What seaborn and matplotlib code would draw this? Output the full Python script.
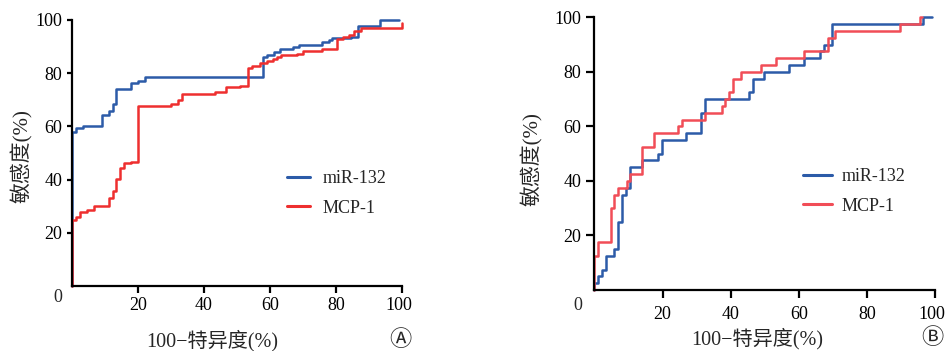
import matplotlib
matplotlib.use("Agg")
import matplotlib.pyplot as plt
import matplotlib.transforms as mtransforms
import seaborn as sns

# ---- data ----
a_mir_x = [0, 0, 1.2, 3.2, 9.0, 11.2, 12.3, 13.3, 17.9, 19.9, 22.2, 57.8, 59.0, 61.1, 63.1,
           66.9, 68.9, 75.7, 77.8, 78.9, 84.4, 86.6, 93.2, 99.1]
a_mir_y = [0, 58, 59.5, 60.3, 64.3, 65.9, 68.3, 73.9, 76.2, 77.2, 78.6, 86.0, 87.0, 87.8, 89.0,
           89.7, 90.7, 91.6, 92.5, 93.2, 93.5, 97.9, 100, 100]
a_mcp_x = [0, 0, 1.2, 2.4, 4.4, 6.8, 11.2, 12.3, 13.3, 14.5, 15.7, 17.9, 19.9, 29.9, 32.1,
           33.3, 43.4, 46.6, 50.9, 53.2, 54.4, 57.0, 59.0, 61.0, 62.0, 63.2, 68.1, 70.1,
           75.7, 80.2, 82.0, 83.8, 85.5, 87.7, 100]
a_mcp_y = [0, 24.8, 26, 27.8, 28.6, 30.2, 33.2, 35.8, 40.2, 44.5, 46.1, 46.8, 67.7, 68.3, 69.9,
           72.2, 73.1, 74.7, 75.3, 81.8, 82.8, 83.7, 84.4, 85.3, 86, 87, 87.4, 88.4,
           89.1, 92.7, 93.7, 94.5, 96, 97.1, 99]

b_mir_x = [0, 0, 1.2, 2.3, 3.4, 5.8, 7.0, 8.1, 9.2, 10.4, 13.9, 18.6, 19.8, 26.8, 31.4, 32.5,
           45.5, 46.5, 49.9, 57.2, 61.6, 66.2, 67.5, 69.6, 96.4, 98.9]
b_mir_y = [0, 2.5, 5, 7.5, 12.5, 15, 25, 35, 37.5, 45, 47.5, 50, 55, 57.5, 65, 70,
           72.5, 77.5, 80, 82.5, 85, 87.5, 90, 97.5, 100, 100]
b_mcp_x = [0, 0, 1.2, 4.8, 5.8, 7.0, 9.5, 10.4, 14.0, 17.5, 24.6, 25.6, 32.4, 37.4, 38.4,
           39.5, 40.6, 43.0, 48.9, 53.3, 61.6, 68.4, 70.7, 89.6, 95.4, 96.2]
b_mcp_y = [0, 12.5, 17.5, 30, 35, 37.5, 40, 42.5, 52.5, 57.5, 60, 62.5, 65, 67.5, 70,
           72.5, 77.5, 80, 82.5, 85, 87.5, 92.5, 95, 97.5, 100, 100]

series_names = ["miR-132", "MCP-1"]
tick_values = [20, 40, 60, 80, 100]
ylabel_text = "敏感度(%)"
xlabel_text = "100−特异度(%)"
panel_tags = ["Ⓐ", "Ⓑ"]

# ---- style ----
sns.set_style("ticks")
plt.rcParams["font.family"] = ["Liberation Serif", "Noto Sans CJK SC", "DejaVu Sans"]

W, H = 946, 351
fig = plt.figure(figsize=(W / 100, H / 100), dpi=100)

BLUE = "#2c5ba8"
RED_A = "#ee2f2f"
RED_B = "#f14d57"


def px_rect(x0, y_top, x1, y_bot):
    return [x0 / W, (H - y_bot) / H, (x1 - x0) / W, (y_bot - y_top) / H]


panels = [
    dict(rect=px_rect(72, 20, 402, 286), data=[(a_mir_x, a_mir_y, BLUE), (a_mcp_x, a_mcp_y, RED_A)],
         ticklen_y=3.8, ticklen_x=5.2, pad_y=3.0, pad_x=2.8,
         zero=(58, 297), leg=(287, 170), hl=1.3, htp=0.65,
         ylab=(22, 156), xlab=(212, 341), tag=(400, 341)),
    dict(rect=px_rect(594.3, 17.3, 935.3, 290), data=[(b_mir_x, b_mir_y, BLUE), (b_mcp_x, b_mcp_y, RED_B)],
         ticklen_y=6.0, ticklen_x=6.0, pad_y=3.5, pad_x=5.5,
         zero=(578, 306), leg=(803, 168), hl=1.6, htp=0.55,
         ylab=(532, 159), xlab=(757, 339), tag=(932, 339)),
]

for i, p in enumerate(panels):
    ax = fig.add_axes(p["rect"])
    for (xs, ys, col), name in zip(p["data"], series_names):
        sns.lineplot(x=xs, y=ys, ax=ax, color=col, linewidth=1.8, drawstyle="steps-post",
                     estimator=None, sort=False, label=name, clip_on=False)
    ax.set_xlim(0, 100)
    ax.set_ylim(0, 100)
    ax.set_xticks(tick_values)
    ax.set_yticks(tick_values)
    ax.set_xticklabels([str(v) for v in tick_values])
    ax.set_yticklabels([str(v) for v in tick_values])
    for s in ["top", "right"]:
        ax.spines[s].set_visible(False)
    for s in ["left", "bottom"]:
        ax.spines[s].set_linewidth(1.6)
        ax.spines[s].set_color("black")
    ax.tick_params(axis="y", length=p["ticklen_y"], width=1.6, pad=p["pad_y"], labelsize=13,
                   colors="black", direction="out")
    ax.tick_params(axis="x", length=p["ticklen_x"], width=1.6, pad=p["pad_x"], labelsize=13,
                   colors="black", direction="out")
    # the last x tick label sits slightly left of its tick in the reference
    last = ax.get_xticklabels()[-1]
    last.set_transform(last.get_transform() +
                       mtransforms.ScaledTranslation(-3.5 / 100, 0, fig.dpi_scale_trans))
    ax.set_xlabel("")
    ax.set_ylabel("")
    ax.patch.set_alpha(0)

    # origin label
    fig.text(p["zero"][0] / W, 1 - p["zero"][1] / H, "0", ha="center", va="center", fontsize=13)

    leg = ax.legend(loc="upper left", bbox_to_anchor=(p["leg"][0] / W, 1 - p["leg"][1] / H),
                    bbox_transform=fig.transFigure, frameon=False, fontsize=13,
                    borderpad=0, borderaxespad=0, handlelength=p["hl"], handletextpad=p["htp"],
                    labelspacing=0.7)
    for ln in leg.get_lines():
        ln.set_linewidth(2.2)

    fig.text(p["ylab"][0] / W, 1 - p["ylab"][1] / H, ylabel_text, rotation=90,
             ha="center", va="center", fontsize=15)
    fig.text(p["xlab"][0] / W, 1 - p["xlab"][1] / H, xlabel_text,
             ha="center", va="center", fontsize=14.5)
    fig.text(p["tag"][0] / W, 1 - p["tag"][1] / H, panel_tags[i],
             ha="center", va="center", fontsize=16)

fig.savefig("out.png", dpi=100)
